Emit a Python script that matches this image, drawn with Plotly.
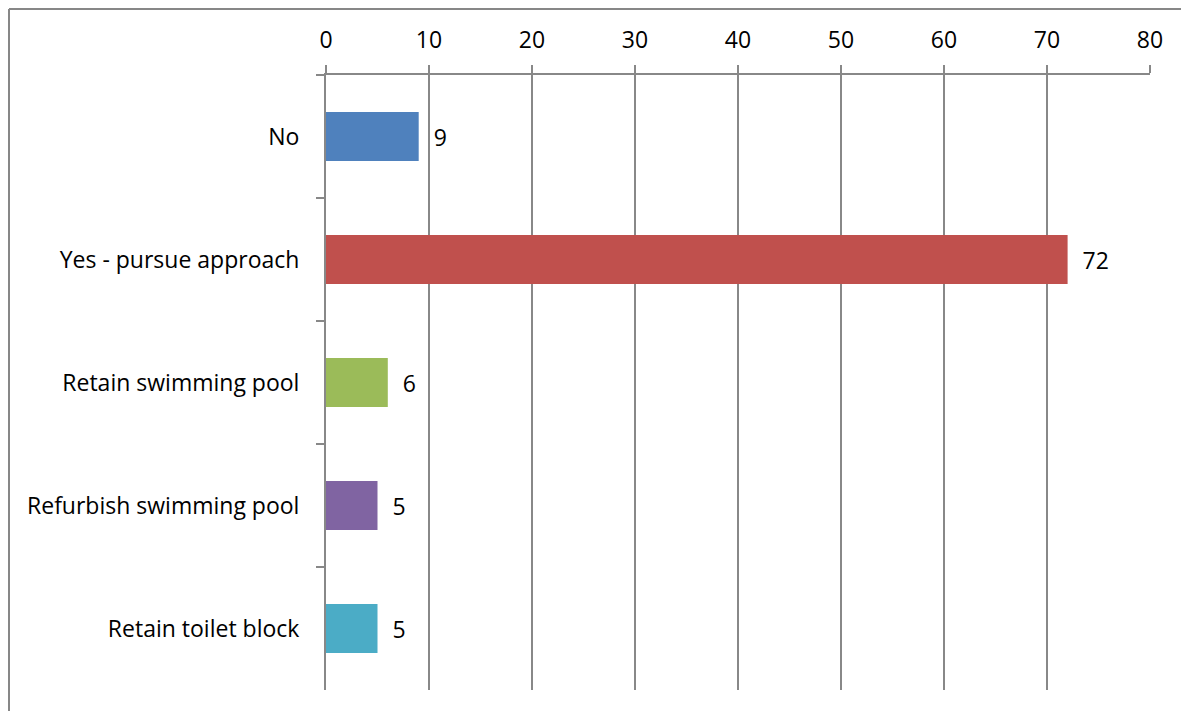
import plotly.graph_objects as go

categories = ["No", "Yes - pursue approach", "Retain swimming pool", "Refurbish swimming pool", "Retain toilet block"]
values = [9, 72, 6, 5, 5]
colors = ["#4F81BD", "#C0504D", "#9BBB59", "#8064A2", "#4BACC6"]
x_ticks = [0, 10, 20, 30, 40, 50, 60, 70, 80]

W, H = 1189, 711
L, R, T, B = 318, 47, 67, 29
pw, ph = W - L - R, H - T - B
OFF = 7  # page offset of the plot inside the window

def px_x(p):
    return (p - OFF - L) / pw

def px_y(p):
    return (H - B - (p - OFF)) / ph

FONT = "Open Sans"
FS = 23

fig = go.Figure(go.Bar(
    y=categories, x=values, orientation="h",
    marker=dict(color=colors, line=dict(width=0)),
    text=["  " + str(v) for v in values], textposition="outside",
    textfont=dict(size=FS, color="#000000", family=FONT),
    cliponaxis=False, width=0.4,
))

gc = "#888888"
fig.update_layout(
    width=W, height=H,
    margin=dict(l=L, r=R, t=T, b=B),
    paper_bgcolor="white", plot_bgcolor="white",
    font=dict(family=FONT, size=FS, color="#000000"),
    showlegend=False,
    xaxis=dict(
        side="top", range=[0, 80], tickvals=x_ticks, ticktext=[str(t) for t in x_ticks],
        showgrid=True, gridcolor=gc, gridwidth=2,
        showline=True, linecolor=gc, linewidth=2,
        ticks="outside", ticklen=8, tickcolor=gc, tickwidth=2,
        ticklabelstandoff=8, zeroline=False, fixedrange=True,
    ),
    yaxis=dict(
        autorange="reversed", showgrid=False,
        showline=True, linecolor=gc, linewidth=2,
        ticks="outside", ticklen=8, tickcolor=gc, tickwidth=2,
        tickson="boundaries", ticklabelstandoff=20, fixedrange=True,
    ),
    shapes=[
        dict(type="line", xref="paper", yref="paper", x0=px_x(8), x1=px_x(W + 20), y0=px_y(8), y1=px_y(8),
             line=dict(color="#878787", width=2)),
        dict(type="line", xref="paper", yref="paper", x0=px_x(8), x1=px_x(8), y0=px_y(8), y1=px_y(H + 20),
             line=dict(color="#878787", width=2)),
    ],
)

fig.write_html("out.html")
